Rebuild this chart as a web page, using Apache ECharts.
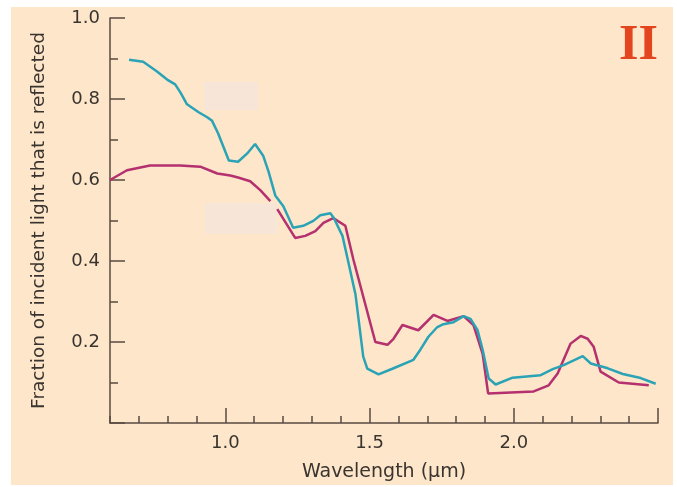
<!DOCTYPE html>
<html><head><meta charset="utf-8">
<script src="https://cdn.jsdelivr.net/npm/echarts@6/dist/echarts.min.js"></script>
<style>html,body{margin:0;padding:0;background:#fff}#c{width:677px;height:487px}</style>
</head><body><div id="c"></div>
<script>
// Data
var cyanX = [0.666,0.715,0.763,0.798,0.826,0.845,0.867,0.906,0.937,0.954,0.975,1.012,1.044,1.075,1.103,1.131,1.150,1.173,1.201,1.235,1.270,1.305,1.329,1.364,1.376,1.406,1.423,1.451,1.478,1.492,1.531,1.579,1.652,1.676,1.704,1.735,1.756,1.791,1.826,1.850,1.874,1.892,1.913,1.937,1.996,2.093,2.135,2.173,2.239,2.267,2.326,2.378,2.440,2.492];
var cyanY = [0.897,0.892,0.868,0.848,0.836,0.815,0.787,0.768,0.755,0.746,0.715,0.648,0.645,0.665,0.689,0.660,0.620,0.562,0.535,0.482,0.487,0.499,0.513,0.518,0.506,0.462,0.408,0.318,0.164,0.134,0.120,0.134,0.156,0.181,0.213,0.237,0.244,0.249,0.264,0.257,0.230,0.181,0.110,0.095,0.112,0.118,0.133,0.143,0.165,0.147,0.135,0.121,0.111,0.097];
var magX = [0.600,0.659,0.739,0.843,0.913,0.972,1.017,1.044,1.086,1.121,1.156,1.168,1.180,1.242,1.277,1.312,1.340,1.374,1.416,1.444,1.520,1.562,1.583,1.614,1.669,1.722,1.770,1.826,1.860,1.892,1.911,2.069,2.121,2.152,2.197,2.232,2.256,2.277,2.301,2.364,2.468];
var magY = [0.600,0.624,0.636,0.636,0.633,0.616,0.611,0.606,0.597,0.575,0.548,null,0.528,0.457,0.462,0.474,0.494,0.506,0.487,0.403,0.200,0.193,0.208,0.242,0.229,0.267,0.252,0.264,0.242,0.171,0.073,0.078,0.093,0.122,0.196,0.215,0.208,0.188,0.127,0.100,0.093];
var xMajorTicks = [1.0,1.5,2.0,2.5];
var xLabels = [1.0,1.5,2.0];

function pairs(xs, ys){ return xs.map(function(x,i){ return [x, ys[i]===null ? '-' : ys[i]]; }); }

var axisColor = '#5a4a40';
var textColor = '#3a3430';
var font = '"DejaVu Sans", Verdana, sans-serif';
var chart = echarts.init(document.getElementById('c'));
chart.setOption({
  backgroundColor: '#ffffff',
  animation: false,
  grid: {left:110, top:18, right:19, bottom:60},
  graphic: [
    {type:'rect', z:-10, shape:{x:11,y:7,width:662,height:478}, style:{fill:'#fde6c9'}},
    {type:'rect', z:-5, shape:{x:204,y:82,width:54,height:28}, style:{fill:'#f7e5d7'}},
    {type:'rect', z:-5, shape:{x:205,y:203,width:72,height:31}, style:{fill:'#f7e5d7'}},
    {type:'text', x:619, y:46, style:{text:'II', font:'bold 50px "Liberation Serif", serif', fill:'#e3461f', verticalAlign:'middle'}}
  ],
  xAxis: [{
    type:'value', min:0.6, max:2.5,
    name:'Wavelength (\u03bcm)', nameLocation:'middle', nameGap:40,
    nameTextStyle:{fontSize:19, color:textColor, fontFamily:font},
    axisLine:{show:true, lineStyle:{color:axisColor, width:1.5}},
    axisTick:{show:true, inside:true, length:15, customValues:xMajorTicks, lineStyle:{color:axisColor, width:1.5}},
    axisLabel:{show:true, customValues:xLabels, margin:11, fontSize:18, color:textColor, fontFamily:font,
      formatter:function(v){return v.toFixed(1);}},
    splitLine:{show:false}
  },{
    type:'value', min:0.6, max:2.5, interval:0.1, position:'bottom',
    axisLine:{show:false},
    axisTick:{show:true, inside:true, length:7, lineStyle:{color:axisColor, width:1.5}},
    axisLabel:{show:false}, splitLine:{show:false}
  }],
  yAxis: {
    type:'value', min:0, max:1, interval:0.2,
    name:'Fraction of incident light that is reflected', nameLocation:'middle', nameGap:61,
    nameTextStyle:{fontSize:18.5, color:textColor, fontFamily:font},
    axisLine:{show:true, lineStyle:{color:axisColor, width:1.5}},
    axisTick:{show:true, inside:true, length:15, lineStyle:{color:axisColor, width:1.5}},
    minorTick:{show:true, splitNumber:2, length:8, lineStyle:{color:axisColor, width:1.5}},
    axisLabel:{margin:10, fontSize:18, color:textColor, fontFamily:font,
      formatter:function(v){return v===0?'':v.toFixed(1);}},
    splitLine:{show:false}, minorSplitLine:{show:false}
  },
  series: [
    {type:'line', data:pairs(magX, magY), showSymbol:false, connectNulls:false,
     lineStyle:{color:'#b4306e', width:2.5}, z:3},
    {type:'line', data:pairs(cyanX, cyanY), showSymbol:false,
     lineStyle:{color:'#2aa3b6', width:2.5}, z:4}
  ]
});
</script></body></html>
